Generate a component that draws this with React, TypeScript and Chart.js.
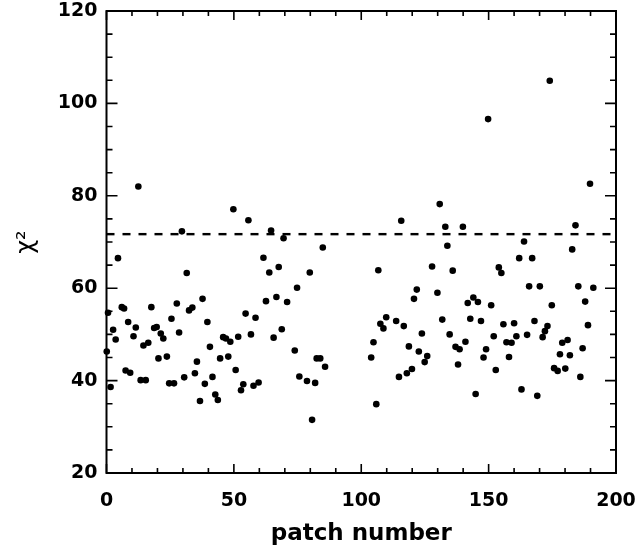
import React, { useEffect, useRef } from "react";
import { Chart, registerables } from "chart.js";

Chart.register(...registerables);

// patch numbers (x) and chi^2 values (y)
const patchNumbers: number[] = [
  0.1, 0.6, 1.6, 2.6, 3.6, 4.5, 6.0, 6.9, 7.5, 8.5, 9.3, 10.6, 11.5, 12.5, 13.4, 14.5, 15.4, 16.4, 17.6, 18.7,
  19.7, 20.4, 21.3, 22.3, 23.7, 24.6, 25.5, 26.5, 27.6, 28.5, 29.6, 30.5, 31.5, 32.4, 33.7, 34.7, 35.5, 36.7, 37.7, 38.6,
  39.6, 40.6, 41.6, 42.7, 43.7, 44.6, 45.8, 46.9, 47.8, 48.6, 49.8, 50.7, 51.7, 52.8, 53.7, 54.6, 55.7, 56.7, 57.7, 58.5,
  59.7, 61.6, 62.6, 63.9, 64.6, 65.6, 66.7, 67.6, 68.8, 69.5, 70.9, 73.9, 74.8, 75.7, 78.7, 79.8, 80.7, 81.9, 82.5, 83.9,
  84.9, 85.8, 103.9, 104.8, 105.9, 106.7, 107.5, 108.7, 109.8, 113.7, 114.8, 115.7, 116.7, 117.9, 118.7, 119.9, 120.7, 121.8, 122.6, 123.8,
  124.9, 125.9, 127.8, 129.9, 130.8, 131.8, 133.0, 133.8, 134.7, 135.9, 137.0, 138.0, 138.6, 139.9, 140.9, 141.8, 142.8, 144.0, 144.9, 145.8,
  147.0, 148.0, 149.0, 149.8, 151.0, 152.0, 152.8, 154.0, 155.0, 155.8, 157.0, 158.0, 159.0, 160.0, 160.9, 162.0, 162.9, 163.9, 165.1, 165.9,
  167.1, 168.0, 169.1, 170.1, 171.2, 172.1, 173.1, 174.0, 174.8, 175.7, 177.1, 178.0, 178.9, 180.1, 181.0, 181.9, 182.8, 184.1, 185.2, 186.0,
  186.9, 187.9, 189.0, 189.8, 191.1,
];

const chiSquared: number[] = [
  46.3, 54.7, 38.6, 51.0, 48.9, 66.5, 55.9, 55.6, 42.2, 52.7, 41.7, 49.6, 51.5, 82.0, 40.1, 47.6, 40.1, 48.2, 55.9, 51.4,
  51.6, 44.8, 50.2, 49.1, 45.2, 39.4, 53.4, 39.4, 56.7, 50.4, 72.3, 40.7, 63.3, 55.2, 55.8, 41.6, 44.1, 35.6, 57.7, 39.3,
  52.7, 47.3, 40.8, 37.0, 35.8, 44.8, 49.4, 49.1, 45.2, 48.4, 77.1, 42.3, 49.5, 37.9, 39.2, 54.5, 74.7, 50.0, 38.9, 53.6,
  39.6, 66.6, 57.2, 63.4, 72.5, 49.3, 58.1, 64.6, 51.1, 70.8, 57.0, 46.5, 60.1, 40.9, 39.9, 63.4, 31.5, 39.5, 44.8, 44.8,
  68.8, 43.0, 45.0, 48.3, 34.9, 63.9, 52.3, 51.3, 53.7, 52.9, 40.8, 74.6, 51.8, 41.6, 47.4, 42.5, 57.7, 59.7, 46.3, 50.2,
  44.0, 45.3, 64.7, 59.0, 78.2, 53.2, 73.3, 69.2, 50.0, 63.8, 47.3, 43.5, 46.8, 73.3, 48.4, 56.8, 53.4, 58.0, 37.1, 57.0,
  52.9, 45.0, 46.8, 96.6, 56.3, 49.6, 42.3, 64.5, 63.3, 52.2, 48.3, 45.1, 48.2, 52.4, 49.6, 66.5, 38.1, 70.1, 49.9, 60.4,
  66.5, 52.9, 36.7, 60.4, 49.4, 50.7, 51.8, 104.9, 56.3, 42.7, 42.1, 45.7, 48.2, 42.6, 48.8, 45.5, 68.4, 73.6, 60.4, 40.8,
  47.0, 57.1, 52.0, 82.6, 60.1,
];

const thresholdX: number[] = [0, 200];
const thresholdValue = 71.7;

const xTickLabels: number[] = [0, 50, 100, 150, 200];
const yTickLabels: number[] = [20, 40, 60, 80, 100, 120];

const X_MIN = 0, X_MAX = 200, Y_MIN = 20, Y_MAX = 120;

const framePlugin = {
  id: "frameTicks",
  afterDatasetsDraw(chart: any) {
    const { ctx, chartArea, scales } = chart;
    const { left, right, top, bottom } = chartArea;
    const xs = scales.x, ys = scales.y;
    ctx.save();
    ctx.strokeStyle = "#000";
    ctx.lineWidth = 2;
    ctx.strokeRect(left, top, right - left, bottom - top);
    ctx.lineWidth = 1.6;
    ctx.beginPath();
    for (let v = X_MIN; v <= X_MAX; v += 10) {
      const px = xs.getPixelForValue(v);
      const len = xTickLabels.includes(v) ? 9 : 5;
      ctx.moveTo(px, bottom);
      ctx.lineTo(px, bottom - len);
      ctx.moveTo(px, top);
      ctx.lineTo(px, top + len);
    }
    for (let v = Y_MIN; v <= Y_MAX; v += 5) {
      const py = ys.getPixelForValue(v);
      const len = yTickLabels.includes(v) ? 11 : 6;
      ctx.moveTo(left, py);
      ctx.lineTo(left + len, py);
      ctx.moveTo(right, py);
      ctx.lineTo(right - len, py);
    }
    ctx.stroke();
    ctx.restore();
  },
};

const zeroPad = (s: any) => {
  s.paddingLeft = 0;
  s.paddingRight = 0;
  s.paddingTop = 0;
  s.paddingBottom = 0;
};

export default function App() {
  const canvasRef = useRef<HTMLCanvasElement | null>(null);

  useEffect(() => {
    document.body.style.margin = "0";
    const canvas = canvasRef.current;
    if (!canvas) return;
    const points = patchNumbers.map((x, i) => ({ x, y: chiSquared[i] }));
    const line = thresholdX.map((x) => ({ x, y: thresholdValue }));
    const tickFont = { family: "'DejaVu Sans'", size: 19, weight: "bold" as const };
    const chart = new Chart(canvas, {
      type: "scatter",
      data: {
        datasets: [
          {
            type: "line",
            data: line,
            borderColor: "#000",
            borderWidth: 2.4,
            borderDash: [8, 8],
            pointRadius: 0,
            showLine: true,
            fill: false,
          } as any,
          {
            data: points,
            backgroundColor: "#000",
            borderColor: "#000",
            pointRadius: 3.3,
            pointBorderWidth: 0,
            clip: 4,
          } as any,
        ],
      },
      options: {
        animation: false,
        responsive: true,
        maintainAspectRatio: false,
        layout: { padding: { top: 11, right: 23, left: 0, bottom: 0 } },
        plugins: { legend: { display: false }, tooltip: { enabled: false } },
        scales: {
          x: {
            type: "linear",
            min: X_MIN,
            max: X_MAX,
            grid: { display: false, drawTicks: false },
            border: { display: false },
            ticks: {
              stepSize: 50,
              color: "#000",
              font: tickFont,
              padding: 17,
              maxRotation: 0,
              callback: (v: any) => (xTickLabels.includes(Number(v)) ? String(v) : ""),
            },
            title: {
              display: true,
              text: "patch number",
              color: "#000",
              font: { family: "'DejaVu Sans'", size: 23, weight: "bold", lineHeight: 1 },
              padding: { top: 0, bottom: 0 },
            },
            afterFit: (s: any) => {
              s.height = 73;
              zeroPad(s);
            },
          },
          y: {
            type: "linear",
            min: Y_MIN,
            max: Y_MAX,
            grid: { display: false, drawTicks: false },
            border: { display: false },
            ticks: {
              stepSize: 20,
              color: "#000",
              font: tickFont,
              padding: 9,
              callback: (v: any) => (yTickLabels.includes(Number(v)) ? String(v) : ""),
            },
            title: {
              display: true,
              text: "χ²",
              color: "#000",
              font: { family: "'DejaVu Sans'", size: 24 },
              padding: { top: 12, bottom: 0 },
            },
            afterFit: (s: any) => {
              s.width = 106.5;
              zeroPad(s);
            },
          },
        },
      },
      plugins: [framePlugin],
    });
    return () => chart.destroy();
  }, []);

  return (
    <div style={{ position: "absolute", left: 0, top: 0, width: 639, height: 546, background: "#fff" }}>
      <canvas ref={canvasRef} />
    </div>
  );
}
